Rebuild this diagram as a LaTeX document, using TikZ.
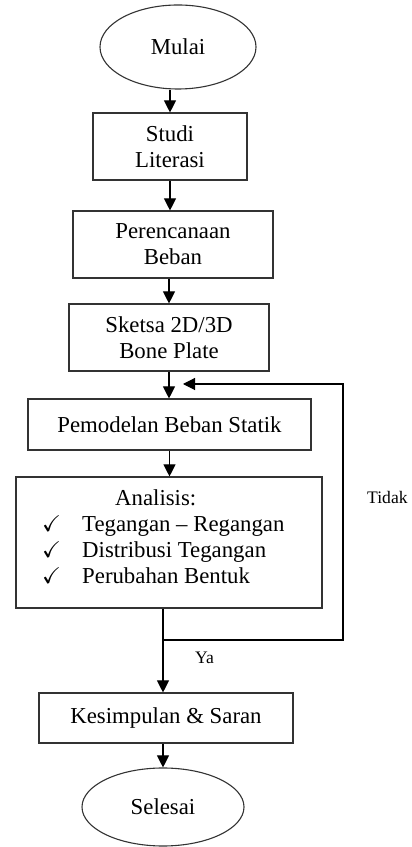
\documentclass[tikz,border=0pt]{standalone}
\usepackage{amssymb}
\usepackage{fontspec}
\setmainfont{Liberation Serif}
\usetikzlibrary{shapes.geometric, arrows.meta}

\begin{document}
\begin{tikzpicture}[x=1pt,y=1pt,
  kotak/.style={draw=black!80, line width=1.1pt, rectangle, inner sep=0pt, align=center, font=\fontsize{22.8}{26}\selectfont},
  oval/.style={draw=black!80, line width=1.1pt, ellipse, inner sep=0pt, font=\fontsize{22.8}{26}\selectfont},
  panah/.style={draw=black, line width=1.1pt, -{Triangle[length=12pt,width=12pt]}},
  ket/.style={font=\fontsize{17.6}{20}\selectfont, inner sep=0pt}]
\useasboundingbox (0,0) rectangle (412,847);

\node[oval, minimum width=156pt, minimum height=84pt] (mulai) at (178,800) {Mulai};
\node[kotak, minimum width=154pt, minimum height=67pt] (studi) at (170,700.5) {Studi\\Literasi};
\node[kotak, minimum width=200pt, minimum height=67pt] (rencana) at (173,602.5) {Perencanaan\\Beban};
\node[kotak, minimum width=200pt, minimum height=67pt] (sketsa) at (169,509.5) {Sketsa 2D/3D\\Bone Plate};
\node[kotak, minimum width=283pt, minimum height=51pt] (model) at (169.5,422.5) {Pemodelan Beban Statik};
\node[kotak, minimum width=306pt, minimum height=131pt] (analisis) at (169,304.5) {};
\node[anchor=north west, inner sep=0pt, align=left, font=\fontsize{22.8}{26}\selectfont] (daftar) at (42,358)
  {\hspace*{73pt}Analisis:\\
   \makebox[40pt][l]{$\checkmark$}Tegangan -- Regangan\\
   \makebox[40pt][l]{$\checkmark$}Distribusi Tegangan\\
   \makebox[40pt][l]{$\checkmark$}Perubahan Bentuk};
\node[kotak, minimum width=254pt, minimum height=50pt] (kesimpulan) at (166,129) {Kesimpulan \& Saran};
\node[oval, minimum width=162pt, minimum height=78pt] (selesai) at (163,40) {Selesai};

\node[ket, anchor=base west] (tidak) at (367,343) {Tidak};
\node[ket, anchor=base west] (ya) at (195,183) {Ya};

\coordinate (cabang) at (163,207);
\coordinate (kanan) at (343,207);
\coordinate (atas) at (343,463);
\coordinate (balik) at (183,463);

\draw[panah] (studi.north |- mulai.south) -- (studi.north);
\draw[panah] (studi.south) -- (studi.south |- rencana.north);
\draw[panah] (sketsa.north |- rencana.south) -- (sketsa.north);
\draw[panah] (sketsa.south) -- (sketsa.south |- model.north);
\draw[panah] (model.south) -- (model.south |- analisis.north);
\draw[panah] (analisis.south -| cabang) -- (cabang) -- (kanan) -- (atas) -- (balik);
\draw[panah] (cabang) -- (cabang |- kesimpulan.north);
\draw[panah] (selesai.north |- kesimpulan.south) -- (selesai.north);
\end{tikzpicture}
\end{document}
